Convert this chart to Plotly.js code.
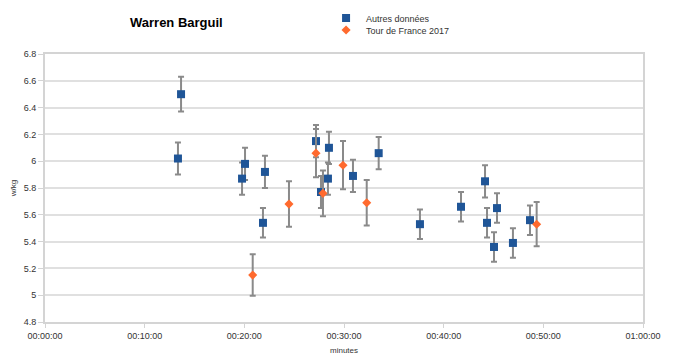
<!DOCTYPE html>
<html>
<head>
<meta charset="utf-8">
<script src="https://cdn.plot.ly/plotly-3.0.1.min.js"></script>
<style>html,body{margin:0;padding:0;background:#fff;}#chart{width:676px;height:364px;}</style>
</head>
<body>
<div id="chart"></div>
<script>
// Series: "Autres données" (minutes, w/kg, error)
const otherMinutes = [13.65, 13.34, 19.77, 20.07, 22.07, 21.87, 27.19, 27.69, 28.39, 28.49, 30.90, 33.48, 37.62, 41.74, 44.15, 44.35, 45.05, 45.35, 46.95, 48.66];
const otherWkg     = [6.50, 6.02, 5.87, 5.98, 5.92, 5.54, 6.15, 5.77, 5.87, 6.10, 5.89, 6.06, 5.53, 5.66, 5.85, 5.54, 5.36, 5.65, 5.39, 5.56];
const otherErr     = [0.13, 0.12, 0.12, 0.12, 0.12, 0.11, 0.12, 0.12, 0.12, 0.12, 0.12, 0.12, 0.11, 0.11, 0.12, 0.11, 0.11, 0.11, 0.11, 0.11];
// Series: "Tour de France 2017"
const tdfMinutes = [20.84, 24.48, 27.19, 27.89, 29.90, 32.28, 49.33];
const tdfWkg     = [5.15, 5.68, 6.06, 5.76, 5.97, 5.69, 5.53];
const tdfErr     = [0.155, 0.17, 0.18, 0.17, 0.18, 0.17, 0.165];
// Axis ticks
const xTickVals = [0, 10, 20, 30, 40, 50, 60];
const xTickText = ["00:00:00", "00:10:00", "00:20:00", "00:30:00", "00:40:00", "00:50:00", "01:00:00"];
const yTickVals = [4.8, 5, 5.2, 5.4, 5.6, 5.8, 6, 6.2, 6.4, 6.6, 6.8];
const yTickText = ["4.8", "5", "5.2", "5.4", "5.6", "5.8", "6", "6.2", "6.4", "6.6", "6.8"];

const FONT = "Liberation Sans, Arial, sans-serif";
const errStyle = {type: 'data', visible: true, color: '#8a8a8a', thickness: 2, width: 3};

const traces = [
  {
    type: 'scatter', mode: 'markers', name: 'Autres données', legend: 'legend',
    x: otherMinutes, y: otherWkg,
    error_y: Object.assign({array: otherErr}, errStyle),
    marker: {symbol: 'square', size: 8, color: '#1f5597'}
  },
  {
    type: 'scatter', mode: 'markers', name: 'Tour de France 2017', legend: 'legend2',
    x: tdfMinutes, y: tdfWkg,
    error_y: Object.assign({array: tdfErr}, errStyle),
    marker: {symbol: 'diamond', size: 7, color: '#ff6a2e'}
  }
];

const legendBase = {
  xref: 'paper', yref: 'paper', xanchor: 'left', yanchor: 'top',
  font: {family: FONT, size: 9, color: '#333333'},
  itemwidth: 30, bgcolor: 'rgba(0,0,0,0)', borderwidth: 0
};

const layout = {
  width: 676, height: 364,
  margin: {l: 45, r: 33, t: 54, b: 42, autoexpand: false},
  paper_bgcolor: '#ffffff', plot_bgcolor: '#ffffff',
  font: {family: FONT, size: 9, color: '#333333'},
  title: {
    text: '<b>Warren Barguil</b>',
    font: {family: FONT, size: 13, color: '#000000'},
    x: 130/676, xanchor: 'left', xref: 'container',
    y: 1 - 22/364, yanchor: 'middle', yref: 'container'
  },
  showlegend: true,
  legend: Object.assign({x: 0.47, y: 1.1884}, legendBase),
  legend2: Object.assign({x: 0.47, y: 1.1437}, legendBase),
  xaxis: {
    range: [0, 60], tickvals: xTickVals, ticktext: xTickText, tickangle: 0,
    showgrid: false, zeroline: false,
    showline: true, linecolor: '#d4d4d4', linewidth: 2, mirror: true,
    ticks: 'outside', ticklen: 4, tickcolor: '#d4d4d4', tickwidth: 1,
    tickfont: {family: FONT, size: 9, color: '#333333'},
    title: {text: 'minutes', font: {family: FONT, size: 8, color: '#333333'}, standoff: 8}
  },
  yaxis: {
    range: [4.8, 6.8], tickvals: yTickVals, ticktext: yTickText,
    showgrid: true, gridcolor: '#e0e0e0', gridwidth: 1.5, zeroline: false,
    showline: true, linecolor: '#d4d4d4', linewidth: 2, mirror: true,
    ticks: 'outside', ticklen: 5, tickcolor: '#d4d4d4', tickwidth: 1,
    tickfont: {family: FONT, size: 9, color: '#333333'},
    title: {text: 'w/kg', font: {family: FONT, size: 8, color: '#333333'}, standoff: 6}
  }
};

Plotly.newPlot('chart', traces, layout, {displayModeBar: false, responsive: false});
</script>
</body>
</html>
